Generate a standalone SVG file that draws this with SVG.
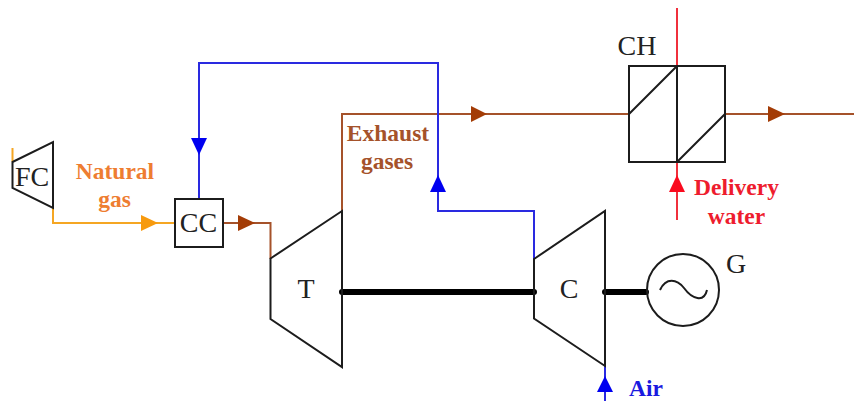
<svg xmlns="http://www.w3.org/2000/svg" width="854" height="401" viewBox="0 0 854 401">
<defs><style>
.open{fill:none;stroke:#1c1c1c;stroke-width:2}
.shaft{fill:none;stroke:#000;stroke-width:6;stroke-linecap:round}
.c{fill:none;stroke-width:2}
.or{stroke:#f5a623}.br{stroke:#a5522a}.bl{stroke:#2a2ae0}.rd{stroke:#f0303c}
text{font-family:"Liberation Serif","Times New Roman",serif;text-anchor:middle}
.n{font-size:28px;fill:#222}
.l{font-size:23.500px;font-weight:bold}
</style></defs>
<rect width="854" height="401" fill="#fff"/>
<g id="connectors">
<path class="c or" d="M12.500 148V162M53 208V223H175"/>
<path class="c br" d="M223 223H270.500V259M342 211V114H629M725 114H854"/>
<path class="c bl" d="M199 199V63H438V211H534V259M605 366V401"/>
<path class="c rd" d="M677 8V66M677 162V220"/>
<path d="M141 215L158 223L141 231Z" fill="#f79a0e"/>
<path d="M238 215L255 223L238 231Z" fill="#a33c06"/>
<path d="M471 106L487 114L471 122Z" fill="#a33c06"/>
<path d="M768 106L785 114L768 122Z" fill="#a33c06"/>
<path d="M191 138H207L199 155Z" fill="#0000f0"/>
<path d="M430 192H446L438 175Z" fill="#0000f0"/>
<path d="M597 392H613L605 376Z" fill="#0000f0"/>
<path d="M669 192H685L677 175Z" fill="#fa0a1e"/>
<path class="shaft" d="M342 292H534M605 292H646"/>
</g>
<g id="FC"><path class="open" d="M12.500 162L53 142V208L12.500 188Z"/><text class="n" x="32" y="186">FC</text></g>
<g id="CC"><rect class="open" x="175" y="199" width="48" height="48"/><text class="n" x="198.500" y="232">CC</text></g>
<g id="T"><path class="open" d="M270.500 258.500L342 211V367L270.500 319Z"/><text class="n" x="306" y="298">T</text></g>
<g id="C"><path class="open" d="M534 259L605 211V366L534 318.500Z"/><text class="n" x="569" y="298">C</text></g>
<g id="G"><circle class="open" cx="683" cy="290" r="36"/><path class="open" d="M660 290C666 277 677 279 684 288C692 299 704 303 707 290"/><text class="n" x="736" y="273">G</text></g>
<g id="CH"><rect class="open" x="629" y="66" width="96" height="96"/><path class="open" d="M677 66V162M629 114L677 66M677 162L725 114"/><text class="n" x="637" y="55">CH</text></g>
<g id="labels">
<text class="l" x="115" y="179" fill="#ee7d31">Natural</text>
<text class="l" x="114.500" y="207" fill="#ee7d31">gas</text>
<text class="l" x="388" y="141" fill="#a5522a">Exhaust</text>
<text class="l" x="387" y="169" fill="#a5522a">gases</text>
<text class="l" x="736.500" y="195" fill="#ee1c2e">Delivery</text>
<text class="l" x="736.500" y="224" fill="#ee1c2e">water</text>
<text class="l" x="646" y="396" fill="#1a1ae0">Air</text>
</g>
</svg>
